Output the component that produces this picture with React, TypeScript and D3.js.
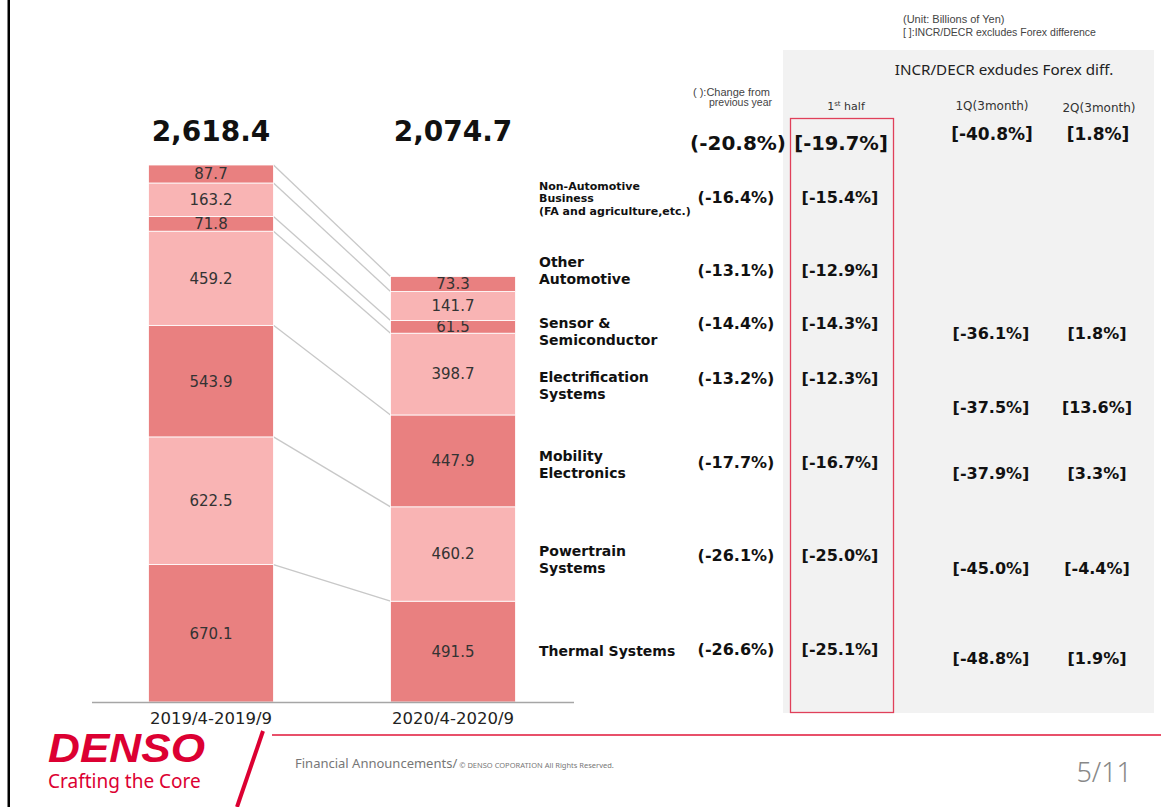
import React from 'react';
import * as d3 from 'd3';

// categories (bottom of the stack first)
const segments = [
  'Thermal Systems',
  'Powertrain Systems',
  'Mobility Electronics',
  'Electrification Systems',
  'Sensor & Semiconductor',
  'Other Automotive',
  'Non-Automotive Business',
];
const segmentLabelLines = [
  ['Thermal Systems'],
  ['Powertrain', 'Systems'],
  ['Mobility', 'Electronics'],
  ['Electrification', 'Systems'],
  ['Sensor &', 'Semiconductor'],
  ['Other', 'Automotive'],
  ['Non-Automotive', 'Business', '(FA and  agriculture,etc.)'],
];
const periods = ['2019/4-2019/9', '2020/4-2020/9'];
const values2019 = [670.1, 622.5, 543.9, 459.2, 71.8, 163.2, 87.7];
const values2020 = [491.5, 460.2, 447.9, 398.7, 61.5, 141.7, 73.3];
const totals = [2618.4, 2074.7];

// change from previous year, and excluding forex
const yoyChange = ['-26.6%', '-26.1%', '-17.7%', '-13.2%', '-14.4%', '-13.1%', '-16.4%'];
const firstHalf = ['-25.1%', '-25.0%', '-16.7%', '-12.3%', '-14.3%', '-12.9%', '-15.4%'];
const q1 = ['-48.8%', '-45.0%', '-37.9%', '-37.5%', '-36.1%', null, null];
const q2 = ['1.9%', '-4.4%', '3.3%', '13.6%', '1.8%', null, null];
const totalYoy = '-20.8%';
const totalFirstHalf = '-19.7%';
const totalQ1 = '-40.8%';
const totalQ2 = '1.8%';

// layout for the right-hand table (row centres)
const rowY = [649, 555, 462, 378, 323, 270, 197];
const labelTop = [651, 551, 456, 377, 323, 262, 186];
const qRowY = [658, 568, 473, 407, 333];

const W = 1161;
const H = 807;
const DARK = '#E98080';
const LIGHT = '#F9B4B4';
const RED = '#DC0032';
const FONT = 'DejaVu Sans, Verdana, sans-serif';
const SMALL = 'Liberation Sans, Arial, sans-serif';

const fmt = d3.format(',.1f');

export default function App() {
  const table = periods.map((p, i) => {
    const row: any = { period: p };
    segments.forEach((s, j) => {
      row[s] = i === 0 ? values2019[j] : values2020[j];
    });
    return row;
  });
  const stack = d3.stack<any>().keys(segments)(table);

  const x = d3.scaleBand<string>().domain(periods).range([90, 574]).paddingInner(0.4835).paddingOuter(0.2417);
  const y = d3.scaleLinear().domain([0, totals[0]]).range([702, 165]);
  const bw = x.bandwidth();

  return (
    <svg width={W} height={H} style={{ position: 'absolute', left: 0, top: 0, background: '#fff' }}>
      <rect x={7.5} y={0} width={2.5} height={H} fill="#000" />

      {/* grey panel */}
      <rect x={783} y={50} width={371} height={663} fill="#F2F2F2" />

      {/* connector lines between the tops of each series */}
      {stack.map((s) => (
        <line
          key={'c' + s.key}
          x1={(x(periods[0]) as number) + bw}
          y1={y(s[0][1])}
          x2={x(periods[1]) as number}
          y2={y(s[1][1])}
          stroke="#C8C8C8"
          strokeWidth={1.3}
        />
      ))}

      {/* stacked bars */}
      {stack.map((s, j) => (
        <g key={s.key}>
          {s.map((d, i) => {
            const v = d[1] - d[0];
            const cy = (y(d[0]) + y(d[1])) / 2;
            return (
              <g key={i}>
                <rect
                  x={x(periods[i])}
                  y={y(d[1])}
                  width={bw}
                  height={y(d[0]) - y(d[1])}
                  fill={j % 2 === 0 ? DARK : LIGHT}
                  stroke="#fff"
                  strokeWidth={0.8}
                />
                <text
                  x={(x(periods[i]) as number) + bw / 2}
                  y={cy}
                  dy="0.36em"
                  textAnchor="middle"
                  fontFamily={FONT}
                  fontSize={15}
                  fill="#333"
                >
                  {fmt(v)}
                </text>
              </g>
            );
          })}
        </g>
      ))}

      {/* totals */}
      {periods.map((p, i) => (
        <text
          key={'t' + p}
          x={(x(p) as number) + bw / 2}
          y={141}
          textAnchor="middle"
          fontFamily={FONT}
          fontWeight="bold"
          fontSize={28}
          fill="#111"
        >
          {fmt(totals[i])}
        </text>
      ))}

      {/* baseline and category labels */}
      <line x1={92} x2={574} y1={702.5} y2={702.5} stroke="#A6A6A6" strokeWidth={1.5} />
      {periods.map((p) => (
        <text key={'p' + p} x={(x(p) as number) + bw / 2} y={724} textAnchor="middle" fontFamily={FONT} fontSize={16.5} fill="#222">
          {p}
        </text>
      ))}

      {/* header notes */}
      <text x={903} y={23} fontFamily={SMALL} fontSize={11} fill="#444">
        (Unit: Billions of Yen)
      </text>
      <text x={903} y={36} fontFamily={SMALL} fontSize={10.5} fill="#444">
        [ ]:INCR/DECR excludes Forex difference
      </text>
      <text x={1004} y={75} textAnchor="middle" fontFamily="Noto Sans, sans-serif" fontSize={15.2} fill="#222">
        INCR/DECR exdudes Forex diff.
      </text>
      <text x={846} y={110} textAnchor="middle" fontFamily={FONT} fontSize={11} fill="#333">
        1<tspan fontSize={7} dy={-4}>st</tspan>
        <tspan dy={4}> half</tspan>
      </text>
      <text x={992} y={110} textAnchor="middle" fontFamily={FONT} fontSize={12} fill="#333">
        1Q(3month)
      </text>
      <text x={1099} y={112} textAnchor="middle" fontFamily={FONT} fontSize={12} fill="#333">
        2Q(3month)
      </text>
      <text x={770} y={96} textAnchor="end" fontFamily={SMALL} fontSize={11} fill="#444">
        ( ):Change from
      </text>
      <text x={772} y={106} textAnchor="end" fontFamily={SMALL} fontSize={10.5} fill="#444">
        previous year
      </text>

      {/* total row */}
      <text x={786} y={143} dy="0.36em" textAnchor="end" fontFamily={FONT} fontWeight="bold" fontSize={20} fill="#111">
        ({totalYoy})
      </text>
      <text x={841} y={143} dy="0.36em" textAnchor="middle" fontFamily={FONT} fontWeight="bold" fontSize={19.5} fill="#111">
        [{totalFirstHalf}]
      </text>
      <text x={992} y={134} dy="0.36em" textAnchor="middle" fontFamily={FONT} fontWeight="bold" fontSize={17} fill="#111">
        [{totalQ1}]
      </text>
      <text x={1098} y={134} dy="0.36em" textAnchor="middle" fontFamily={FONT} fontWeight="bold" fontSize={17} fill="#111">
        [{totalQ2}]
      </text>

      {/* segment rows */}
      {segments.map((s, j) => {
        const lines = segmentLabelLines[j];
        const small = lines.length > 2;
        const lh = small ? 12.5 : 17;
        return (
          <g key={'r' + s}>
            {lines.map((l, k) => (
              <text
                key={k}
                x={539}
                y={labelTop[j] + k * lh}
                dy="0.36em"
                fontFamily={FONT}
                fontWeight="bold"
                fontSize={small ? 11 : 14}
                fill="#111"
              >
                {l}
              </text>
            ))}
            <text x={736} y={rowY[j]} dy="0.36em" textAnchor="middle" fontFamily={FONT} fontWeight="bold" fontSize={16} fill="#111">
              ({yoyChange[j]})
            </text>
            <text x={840} y={rowY[j]} dy="0.36em" textAnchor="middle" fontFamily={FONT} fontWeight="bold" fontSize={16} fill="#111">
              [{firstHalf[j]}]
            </text>
            {q1[j] && (
              <text x={991} y={qRowY[j]} dy="0.36em" textAnchor="middle" fontFamily={FONT} fontWeight="bold" fontSize={16} fill="#111">
                [{q1[j]}]
              </text>
            )}
            {q2[j] && (
              <text x={1097} y={qRowY[j]} dy="0.36em" textAnchor="middle" fontFamily={FONT} fontWeight="bold" fontSize={16} fill="#111">
                [{q2[j]}]
              </text>
            )}
          </g>
        );
      })}

      {/* highlight box around 1st half column */}
      <rect x={790.5} y={118.5} width={103} height={594} fill="none" stroke="#E0405A" strokeWidth={1.3} />

      {/* footer */}
      <line x1={272} x2={W} y1={735} y2={735} stroke="#E8506A" strokeWidth={2} />
      <line x1={263} y1={731} x2={237} y2={H} stroke={RED} strokeWidth={4} />
      <text
        x={48}
        y={762}
        fontFamily={SMALL}
        fontWeight="bold"
        fontStyle="italic"
        fontSize={40}
        fill={RED}
        textLength={157}
        lengthAdjust="spacingAndGlyphs"
      >
        DENSO
      </text>
      <text x={48} y={788} fontFamily="Noto Sans, sans-serif" fontSize={19} fill={RED}>
        Crafting the Core
      </text>
      <text x={295} y={768} fontFamily="Noto Sans, sans-serif" fontSize={13} fill="#777">
        Financial Announcements/
        <tspan fontSize={7.5}> © DENSO COPORATION All Rights Reserved.</tspan>
      </text>
      <text x={1132} y={782} textAnchor="end" fontFamily="Noto Sans, sans-serif" fontWeight={300} fontSize={27} fill="#888">
        5/11
      </text>
    </svg>
  );
}
